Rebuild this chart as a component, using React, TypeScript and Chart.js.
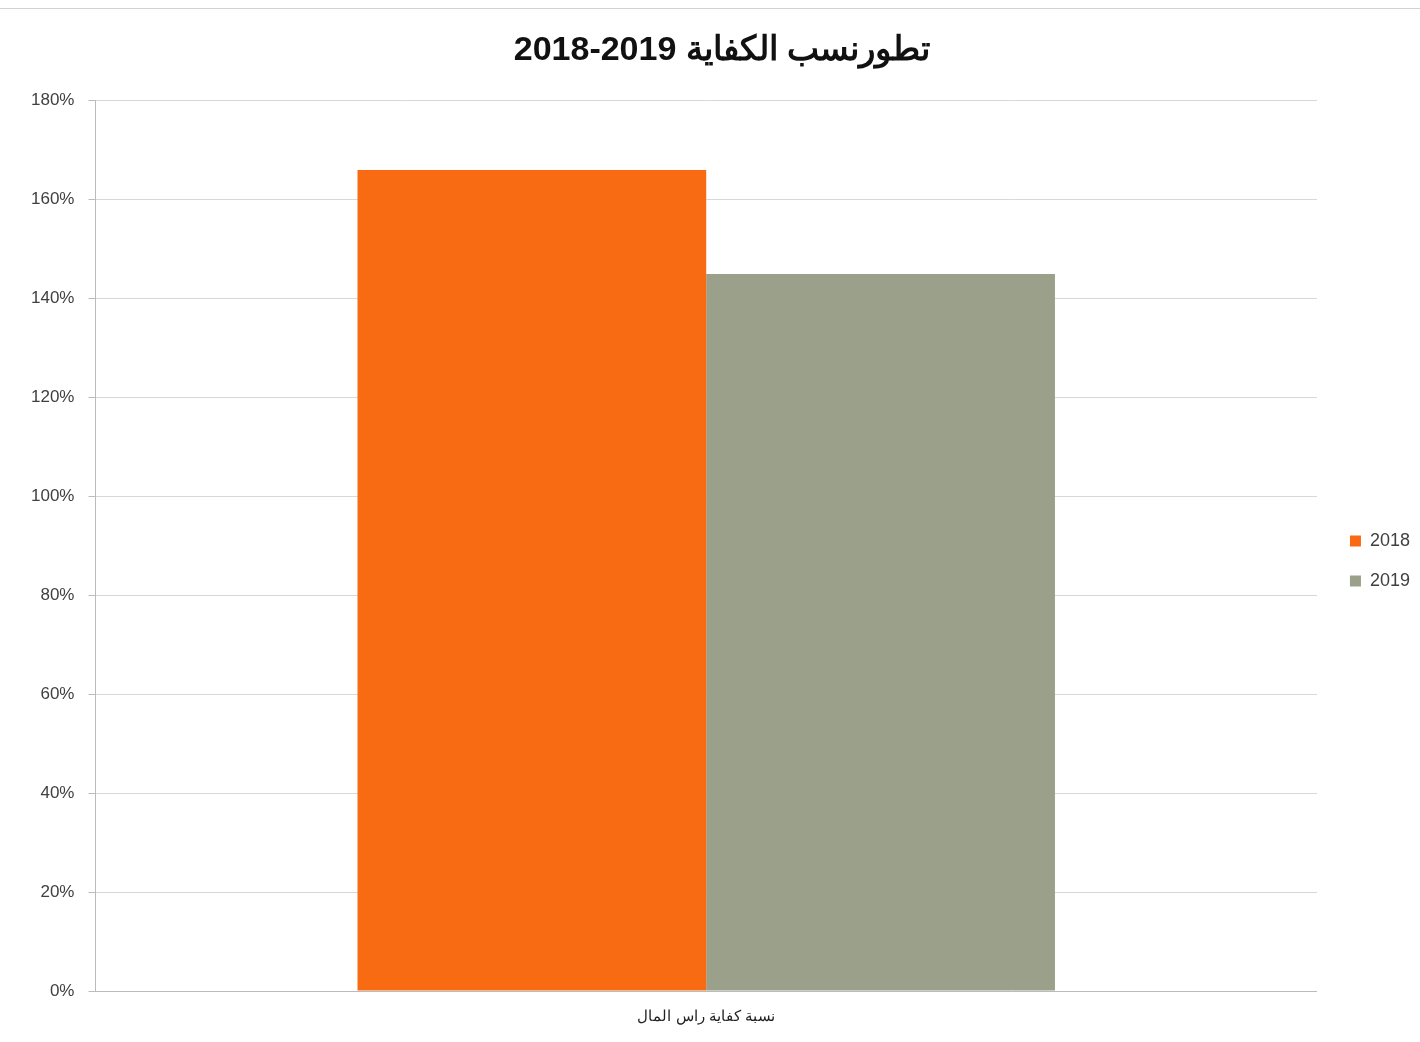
import React, { useEffect, useRef } from "react";
import { Chart, registerables } from "chart.js";

Chart.register(...registerables);

const categories = ["نسبة كفاية راس المال"];
const seriesLabels = ["2018", "2019"];
const values2018 = [166];
const values2019 = [145];
const yTicks = [0, 20, 40, 60, 80, 100, 120, 140, 160, 180];
const titleText = "تطورنسب الكفاية 2019-2018";

const boxShift = {
  id: "boxShift",
  afterLayout(chart: any) {
    const lg = chart.legend;
    if (lg) {
      lg.top += 25;
      lg.bottom += 25;
      lg.left += 11;
      lg.right += 11;
    }
    const tb = chart.titleBlock;
    if (tb) {
      tb.left += 9;
      tb.right += 9;
    }
  },
};

export default function App() {
  const ref = useRef<HTMLCanvasElement | null>(null);
  useEffect(() => {
    document.body.style.margin = "0";
    const ctx = ref.current!.getContext("2d")!;
    const chart = new Chart(ctx, {
      type: "bar",
      data: {
        labels: categories,
        datasets: [
          { label: seriesLabels[0], data: values2018, backgroundColor: "#f96b12", borderWidth: 0 },
          { label: seriesLabels[1], data: values2019, backgroundColor: "#9ba08a", borderWidth: 0 },
        ],
      },
      plugins: [boxShift],
      options: {
        animation: false,
        responsive: false,
        devicePixelRatio: 1,
        layout: { padding: { left: 17, right: 11, top: 30, bottom: 0 } },
        datasets: { bar: { categoryPercentage: 0.571, barPercentage: 1.0 } },
        plugins: {
          title: {
            display: true,
            text: titleText,
            color: "#111",
            font: { family: "Liberation Sans, Arial", size: 34, weight: "bold" },
            padding: { top: 0, bottom: 30 },
          },
          legend: {
            position: "right",
            align: "center",
            labels: {
              boxWidth: 11,
              boxHeight: 11,
              padding: 22,
              color: "#404040",
              font: { family: "Liberation Sans, Arial", size: 18 },
            },
          },
          tooltip: { enabled: false },
        },
        scales: {
          x: {
            grid: { display: false, drawTicks: false },
            border: { display: true, color: "#b8bcbc", width: 1 },
            ticks: {
              color: "#222",
              padding: 18,
              font: { family: "Liberation Sans, Arial", size: 15, lineHeight: 1 },
            },
          },
          y: {
            min: 0,
            max: 180,
            afterBuildTicks: (axis: any) => {
              axis.ticks = yTicks.map((v) => ({ value: v }));
            },
            grid: { color: "#d5d9d9", lineWidth: 1, tickLength: 7, tickColor: "#b8bcbc" },
            border: { display: true, color: "#b8bcbc", width: 1 },
            ticks: {
              color: "#404040",
              padding: 14,
              font: { family: "Liberation Sans, Arial", size: 17 },
              callback: (v: any) => v + "%",
            },
          },
        },
      },
    });
    return () => chart.destroy();
  }, []);
  return (
    <div style={{ position: "relative", width: 1420, height: 1042, background: "#fff" }}>
      <div style={{ position: "absolute", left: 0, right: 0, top: 8, height: 1, background: "#cfd3d3" }} />
      <canvas ref={ref} width={1420} height={1042} style={{ display: "block" }} />
    </div>
  );
}
